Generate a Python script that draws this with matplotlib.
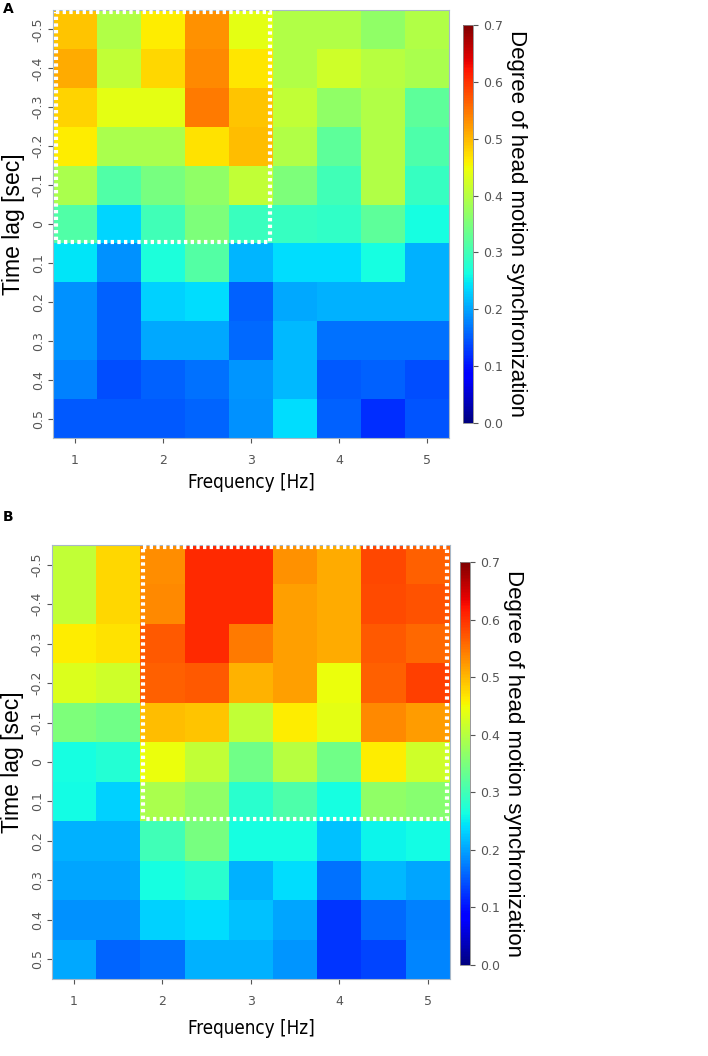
import numpy as np
import matplotlib
matplotlib.use("Agg")
import matplotlib.pyplot as plt
from matplotlib.patches import Rectangle

# frequency columns (Hz) and time lag rows (sec)
freqs = [1.0, 1.5, 2.0, 2.5, 3.0, 3.5, 4.0, 4.5, 5.0]
lags = [-0.5, -0.4, -0.3, -0.2, -0.1, 0.0, 0.1, 0.2, 0.3, 0.4, 0.5]
lag_labels = ["-0.5", "-0.4", "-0.3", "-0.2", "-0.1", "0", "0.1", "0.2", "0.3", "0.4", "0.5"]
freq_ticks = [1, 2, 3, 4, 5]
cbar_ticks = [0.0, 0.1, 0.2, 0.3, 0.4, 0.5, 0.6, 0.7]

# panel A: rows = lags, cols = freqs
sync_a = [
    [0.49, 0.395, 0.46, 0.53, 0.44, 0.395, 0.395, 0.367, 0.395],
    [0.51, 0.41, 0.476, 0.535, 0.465, 0.395, 0.42, 0.40, 0.39],
    [0.48, 0.44, 0.44, 0.546, 0.49, 0.41, 0.367, 0.395, 0.325],
    [0.46, 0.39, 0.39, 0.47, 0.495, 0.395, 0.325, 0.395, 0.31],
    [0.39, 0.313, 0.347, 0.367, 0.41, 0.35, 0.30, 0.395, 0.29],
    [0.313, 0.235, 0.30, 0.35, 0.295, 0.29, 0.285, 0.325, 0.265],
    [0.245, 0.186, 0.27, 0.315, 0.213, 0.24, 0.24, 0.265, 0.21],
    [0.186, 0.154, 0.23, 0.24, 0.155, 0.203, 0.21, 0.21, 0.21],
    [0.186, 0.155, 0.205, 0.205, 0.16, 0.215, 0.165, 0.165, 0.165],
    [0.175, 0.14, 0.155, 0.165, 0.19, 0.215, 0.15, 0.155, 0.14],
    [0.148, 0.148, 0.148, 0.157, 0.186, 0.24, 0.155, 0.12, 0.145],
]

# panel B
sync_b = [
    [0.41, 0.476, 0.531, 0.607, 0.607, 0.53, 0.51, 0.584, 0.565],
    [0.41, 0.476, 0.535, 0.607, 0.607, 0.518, 0.51, 0.58, 0.575],
    [0.46, 0.47, 0.571, 0.607, 0.546, 0.518, 0.51, 0.57, 0.56],
    [0.43, 0.42, 0.565, 0.571, 0.505, 0.518, 0.445, 0.565, 0.59],
    [0.35, 0.34, 0.495, 0.49, 0.41, 0.46, 0.44, 0.535, 0.52],
    [0.265, 0.275, 0.445, 0.41, 0.34, 0.40, 0.34, 0.46, 0.42],
    [0.26, 0.23, 0.39, 0.367, 0.28, 0.31, 0.265, 0.367, 0.36],
    [0.21, 0.21, 0.30, 0.347, 0.265, 0.265, 0.22, 0.255, 0.26],
    [0.20, 0.20, 0.265, 0.28, 0.21, 0.24, 0.165, 0.215, 0.20],
    [0.186, 0.186, 0.23, 0.24, 0.22, 0.20, 0.125, 0.16, 0.175],
    [0.205, 0.157, 0.165, 0.21, 0.21, 0.19, 0.125, 0.135, 0.18],
]

# highlighted windows: (freq_from, freq_to, lag_from, lag_to)
box_a = (1.0, 3.0, -0.5, 0.0)
box_b = (2.0, 5.0, -0.5, 0.1)

fig = plt.figure(figsize=(7.08, 10.56), dpi=100)

grey = "#555555"
xe = np.arange(len(freqs) + 1) * 0.5 + freqs[0] - 0.25
ye = np.arange(len(lags) + 1) * 0.1 + lags[0] - 0.05


def panel(ax_rect, cb_rect, data, box, letter, letter_y, ylab_x, xlab_y):
    ax = fig.add_axes(ax_rect)
    mesh = ax.pcolormesh(xe, ye, np.array(data), cmap="jet", vmin=0, vmax=0.7)
    ax.set_xlim(xe[0], xe[-1])
    ax.set_ylim(ye[-1], ye[0])
    ax.set_xticks(freq_ticks)
    ax.set_xticklabels([str(f) for f in freq_ticks], fontsize=9, color=grey)
    ax.set_yticks(lags)
    ax.set_yticklabels(lag_labels, fontsize=9, color=grey, rotation=90, va="center")
    ax.tick_params(axis="x", colors=grey, length=3.5, pad=8)
    ax.tick_params(axis="y", colors=grey, length=3.5, pad=2.5)
    for s in ax.spines.values():
        s.set_color("#a8b8c8")
        s.set_linewidth(0.8)
    ax.set_xlabel("Frequency [Hz]", fontsize=13.5, family="DejaVu Sans",
                  fontstretch="condensed", va="center")
    ax.xaxis.set_label_coords(0.5, xlab_y)
    ax.set_ylabel("Time lag [sec]", fontsize=16.5, family=["Liberation Sans", "DejaVu Sans"],
                  va="center")
    ax.yaxis.set_label_coords(ylab_x, 0.5)
    f0, f1, l0, l1 = box
    ax.add_patch(Rectangle((f0 - 0.22, l0 - 0.045), f1 - f0 + 0.44, l1 - l0 + 0.09,
                           fill=False, ec="white", lw=3, ls=(0, (0.8, 0.8)), zorder=5))

    cax = fig.add_axes(cb_rect)
    cb = fig.colorbar(mesh, cax=cax, ticks=cbar_ticks)
    cb.ax.set_ylim(0, 0.7)
    cb.ax.set_yticklabels(["%.1f" % t for t in cbar_ticks], fontsize=9, color=grey)
    cb.ax.tick_params(colors=grey, length=3.5)
    cb.outline.set_edgecolor("#888888")
    cb.outline.set_linewidth(0.6)
    cb.set_label("Degree of head motion synchronization", rotation=-90, fontsize=16,
                 family=["Liberation Sans", "DejaVu Sans"], va="center", ha="center")
    cb.ax.yaxis.set_label_coords(5.4, 0.5)
    fig.text(0.004, letter_y, letter, fontsize=10, fontweight="bold", va="top")


panel([0.0749, 0.5852, 0.559, 0.4053], [0.654, 0.5994, 0.0141, 0.377],
      sync_a, box_a, "A", 0.998, -0.100, -0.105)
panel([0.0734, 0.0729, 0.562, 0.411], [0.6497, 0.0862, 0.0141, 0.3816],
      sync_b, box_b, "B", 0.517, -0.100, -0.113)

fig.savefig("out.png", dpi=100)
